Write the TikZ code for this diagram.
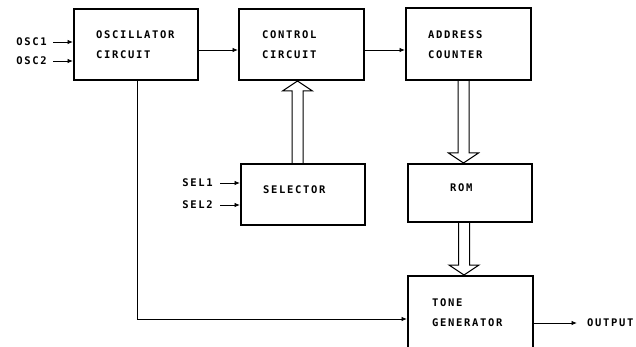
\documentclass[tikz,border=0pt]{standalone}
\usepackage{fontspec}
\newfontfamily\lblfont[LetterSpace=16]{DejaVu Sans Mono}
\usetikzlibrary{calc,arrows.meta}
\tikzset{
  box/.style={draw, line width=2pt, inner sep=0pt},
  lbl/.style={inner sep=0pt, align=left, font=\lblfont\bfseries\fontsize{10.5}{20}\selectfont},
  arr/.style={line width=0.9pt, -{Latex[length=5.5pt,width=4.5pt]}},
  hol/.style={line width=1pt, line join=miter},
}
\newcommand\hdown[3]{\draw[hol] let \p1=(#2), \p2=(#3) in
  (#1pt-5.5pt,\y1) -- (#1pt-5.5pt,\y2+10pt) -- (#1pt-15pt,\y2+10pt) -- (#1pt,\y2)
  -- (#1pt+15pt,\y2+10pt) -- (#1pt+5.5pt,\y2+10pt) -- (#1pt+5.5pt,\y1);}
\newcommand\hup[3]{\draw[hol] let \p1=(#2), \p2=(#3) in
  (#1pt-5.5pt,\y1) -- (#1pt-5.5pt,\y2-10pt) -- (#1pt-15pt,\y2-10pt) -- (#1pt,\y2)
  -- (#1pt+15pt,\y2-10pt) -- (#1pt+5.5pt,\y2-10pt) -- (#1pt+5.5pt,\y1);}
\begin{document}
\begin{tikzpicture}[x=1pt,y=-1pt]
\useasboundingbox (0,0) rectangle (636,347);
\clip (0,0) rectangle (636,347);
% boxes
\node[box, minimum width=124pt, minimum height=71pt] (osc) at (136,44.5) {};
\node[box, minimum width=125pt, minimum height=71pt] (ctrl) at (301.5,44.5) {};
\node[box, minimum width=125pt, minimum height=72pt] (addr) at (468.5,44) {};
\node[box, minimum width=124pt, minimum height=61pt] (sel) at (303,194.5) {};
\node[box, minimum width=124pt, minimum height=58pt] (rom) at (470,193) {};
\node[box, minimum width=125pt, minimum height=96pt] (tone) at (470.5,324) {};
% box texts
\node[lbl, anchor=west] (osct) at (96,45) {OSCILLATOR\\CIRCUIT};
\node[lbl, anchor=west] (ctrlt) at (262,45) {CONTROL\\CIRCUIT};
\node[lbl, anchor=west] (addrt) at (428,45) {ADDRESS\\COUNTER};
\node[lbl, anchor=west] (selt) at (263,190) {SELECTOR};
\node[lbl, anchor=west] (romt) at (450,188) {ROM};
\node[lbl, anchor=west] (tonet) at (432,313) {TONE\\GENERATOR};
% external labels
\node[lbl, anchor=east] (osc1) at (47,42) {OSC1};
\node[lbl, anchor=east] (osc2) at (47,61) {OSC2};
\node[lbl, anchor=east] (sel1) at (213,183) {SEL1};
\node[lbl, anchor=east] (sel2) at (213,205) {SEL2};
\node[lbl, anchor=west] (out) at (587,323) {OUTPUT};
% thin connectors
\draw[arr] ($(osc1.east)+(6,0)$) -- (osc.west |- osc1);
\draw[arr] ($(osc2.east)+(6,0)$) -- (osc.west |- osc2);
\draw[arr] ($(sel1.east)+(7,0)$) -- (sel.west |- sel1);
\draw[arr] ($(sel2.east)+(7,0)$) -- (sel.west |- sel2);
\draw[arr] ($(osc.east)+(0,5.5)$) -- ($(ctrl.west)+(0,5.5)$);
\draw[arr] ($(ctrl.east)+(0,5.5)$) -- ($(addr.west)+(0,6)$);
\coordinate (tin) at (407,319);
\draw[arr] ($(osc.south)+(1,0)$) |- (tin);
\draw[arr] (tone.east |- out) -- ($(out.west)+(-10,0)$);
% hollow bus arrows
\hdown{463.5}{addr.south}{rom.north}
\hdown{464}{rom.south}{tone.north}
\hup{297.5}{sel.north}{ctrl.south}
\end{tikzpicture}
\end{document}
